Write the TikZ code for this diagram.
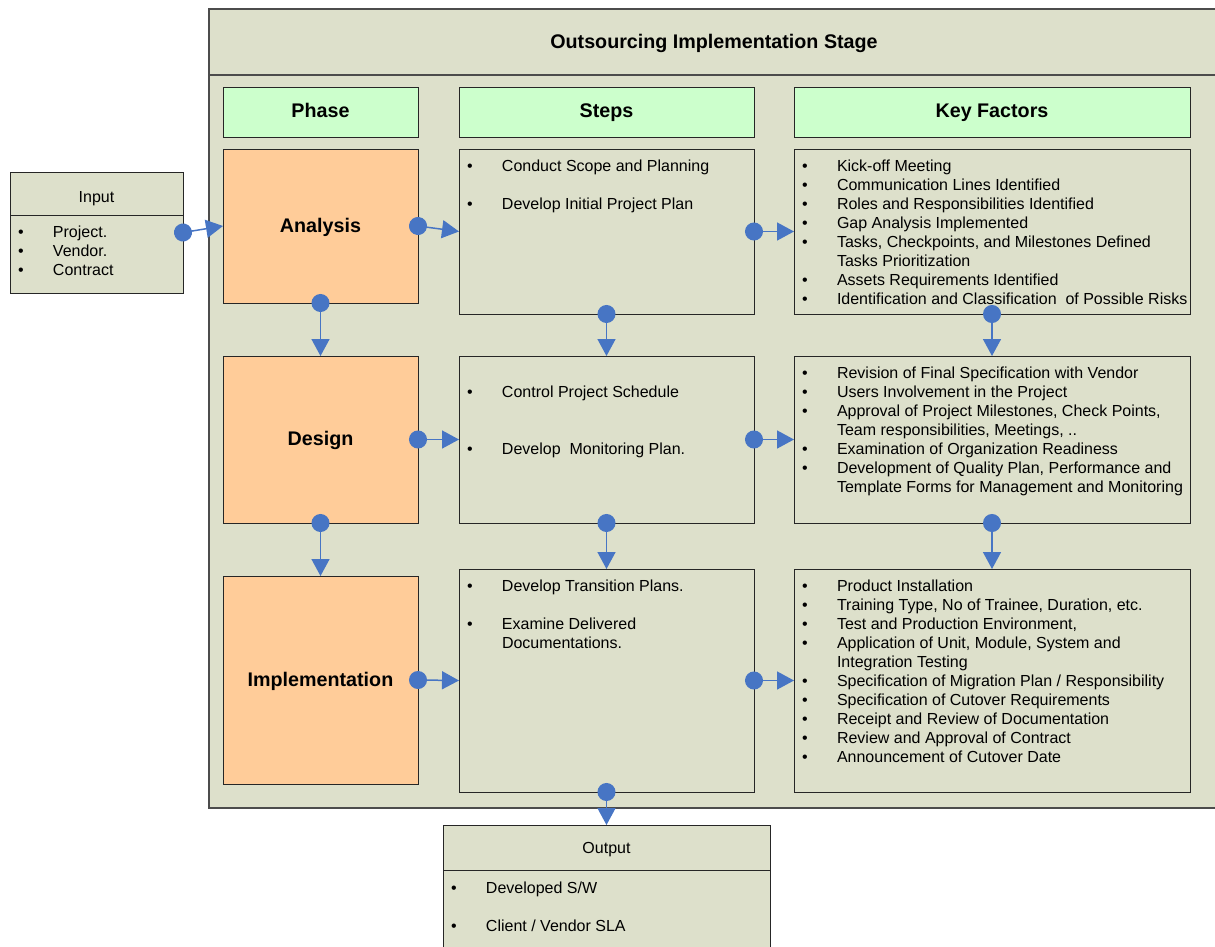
\documentclass[tikz,border=0pt]{standalone}
\usepackage{fontspec}
\setmainfont{Liberation Sans}
\usetikzlibrary{positioning,arrows.meta}
\definecolor{stagebg}{RGB}{221,224,203}
\definecolor{headgreen}{RGB}{204,255,204}
\definecolor{phaseorange}{RGB}{255,204,153}
\definecolor{linkblue}{RGB}{71,117,196}
\newcommand{\bl}{\makebox[43pt][l]{\hspace*{8pt}\textbullet}}
\newcommand{\nb}{\hspace*{43pt}}
\newcommand{\toplist}[3]{\parbox[t][#2][t]{#1}{\raggedright\strut#3}}
\tikzset{every node/.style={align=center}, >= {Triangle[length=17pt,width=18pt]}, font=\fontsize{16}{19}\selectfont,
  box/.style={draw=black!85, fill=stagebg, line width=0.8pt, outer sep=0pt, inner xsep=0pt, inner ysep=9.5pt},
  head/.style={box, fill=headgreen, inner sep=0pt, text height=14pt, text depth=2pt, font=\fontsize{19.7}{23}\selectfont\bfseries},
  phase/.style={head, fill=phaseorange, minimum width=195pt},
  link/.style={color=linkblue, line width=1.5pt, {Circle[length=18pt]}->, shorten <=-9pt}}

\begin{document}
\begin{tikzpicture}[x=1pt, y=-1pt]
\useasboundingbox (0,0) rectangle (1215,947);
% stage frame and title band
\node [box, draw=black!70, line width=1.4pt, inner sep=0pt, anchor=north west,
       minimum width=1015pt, minimum height=799pt] (stage) at (209,9) {};
\draw [black!70, line width=1.4pt] ([yshift=-66pt]stage.north west) -- ([yshift=-66pt]stage.north east);
\node [text height=14pt, text depth=2pt, font=\fontsize{19.7}{23}\selectfont\bfseries] (title) at (714,43) {Outsourcing Implementation Stage};

% column heads
\node [head, anchor=north west, minimum width=195pt, minimum height=50pt] (phasehead) at (223,87) {Phase};
\node [head, anchor=north west, minimum width=295pt, minimum height=50pt] (stepshead) at (459,87) {Steps};
\node [head, anchor=north west, minimum width=396pt, minimum height=50pt] (factorhead) at (794,87) {Key Factors};

% phases
\node [phase, minimum height=154pt] (analysis) [below=12pt of phasehead] {Analysis};
\node [phase, minimum height=167pt] (design) [below=53pt of analysis] {Design};
\node [phase, minimum height=208pt] (implementation) [below=53pt of design] {Implementation};

% steps
\node [box] (steps1) [below=12pt of stepshead] {\toplist{295pt}{146pt}{%
  \bl Conduct Scope and Planning\\[19pt]
  \bl Develop Initial Project Plan}};
\node [box] (steps2) [below=42pt of steps1] {\toplist{295pt}{148pt}{%
  \mbox{}\\
  \bl Control Project Schedule\\[38pt]
  \bl Develop\ \ Monitoring Plan.}};
\node [box] (steps3) [below=46pt of steps2] {\toplist{295pt}{204pt}{%
  \bl Develop Transition Plans.\\[19pt]
  \bl Examine Delivered\\
  \nb Documentations.}};

% key factors
\node [box] (factors1) [below=12pt of factorhead] {\toplist{396pt}{146pt}{%
  \bl Kick-off Meeting\\
  \bl Communication Lines Identified\\
  \bl Roles and Responsibilities Identified\\
  \bl Gap Analysis Implemented\\
  \bl Tasks, Checkpoints, and Milestones Defined\\
  \nb Tasks Prioritization\\
  \bl Assets Requirements Identified\\
  \bl Identification and Classification\ \ of Possible Risks}};
\node [box] (factors2) [below=42pt of factors1] {\toplist{396pt}{148pt}{%
  \bl Revision of Final Specification with Vendor\\
  \bl Users Involvement in the Project\\
  \bl Approval of Project Milestones, Check Points,\\
  \nb Team responsibilities, Meetings, ..\\
  \bl Examination of Organization Readiness\\
  \bl Development of Quality Plan, Performance and\\
  \nb Template Forms for Management and Monitoring}};
\node [box] (factors3) [below=46pt of factors2] {\toplist{396pt}{204pt}{%
  \bl Product Installation\\
  \bl Training Type, No of Trainee, Duration, etc.\\
  \bl Test and Production Environment,\\
  \bl Application of Unit, Module, System and\\
  \nb Integration Testing\\
  \bl Specification of Migration Plan / Responsibility\\
  \bl Specification of Cutover Requirements\\
  \bl Receipt and Review of Documentation\\
  \bl Review and Approval of Contract\\
  \bl Announcement of Cutover Date}};

% input and output
\node [box, inner ysep=16.7pt, anchor=north west] (input) at (10,172) {\toplist{173pt}{87.6pt}{%
  \centering Input\par\vspace{16.5pt}\raggedright
  \bl Project.\\
  \bl Vendor.\\
  \bl Contract}};
\draw [black!85, line width=0.8pt] ([yshift=-43pt]input.north west) -- ([yshift=-43pt]input.north east);
\node [box, inner ysep=15pt] (output) [below=33pt of steps3] {\toplist{327pt}{100pt}{%
  \centering Output\par\vspace{21pt}\raggedright
  \bl Developed S/W\\[19pt]
  \bl Client / Vendor SLA}};
\draw [black!85, line width=0.8pt] ([yshift=-45pt]output.north west) -- ([yshift=-45pt]output.north east);

% connectors
\path [link] (input.east) edge (analysis.west)
    (analysis.east) edge (steps1.west)
    (steps1.east) edge (factors1.west)
    (design.east) edge (steps2.west)
    (steps2.east) edge (factors2.west)
    (implementation.east) edge (steps3.west)
    (steps3.east) edge (factors3.west)
    (analysis.south) edge (design.north)
    (design.south) edge (implementation.north)
    (steps1.south) edge (steps2.north)
    (steps2.south) edge (steps3.north)
    (factors1.south) edge (factors2.north)
    (factors2.south) edge (factors3.north)
    (steps3.south) edge (output.north);
\end{tikzpicture}
\end{document}
